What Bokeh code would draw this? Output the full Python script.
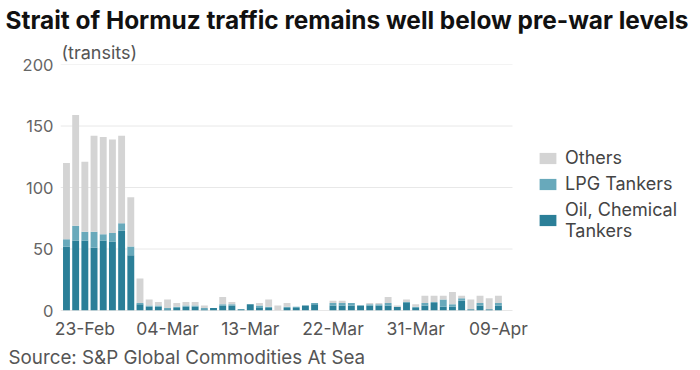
import pandas as pd
from bokeh.plotting import figure
from bokeh.models import FixedTicker, Legend, LegendItem, ColumnDataSource, Range1d, Title
from bokeh.embed import file_html
from bokeh.resources import INLINE

# ---- data (daily transits, 21-Feb to 09-Apr) ----
dates = list(pd.date_range("2026-02-21", "2026-04-09").strftime("%d-%b"))
oil = [52, 57, 57, 51, 57, 56, 65, 45, 5, 3, 3, 1, 2, 3, 3, 1,
       2, 4, 4, 1, 5, 2, 2, 0, 2, 2, 4, 5, 0, 4, 4, 4,
       4, 4, 4, 4, 3, 6, 2, 4, 6, 3, 3, 8, 1, 4, 1, 4]
lpg = [6, 12, 7, 13, 5, 7, 6, 7, 1, 1, 1, 1, 1, 1, 1, 1,
       0, 1, 1, 0, 0, 2, 1, 0, 1, 1, 0, 1, 0, 2, 2, 2,
       0, 1, 1, 2, 0, 1, 1, 2, 1, 6, 2, 2, 0, 2, 0, 2]
others = [62, 90, 57, 78, 79, 76, 71, 40, 20, 5, 3, 7, 3, 3, 3, 2,
          0, 6, 2, 0, 0, 2, 6, 4, 3, 0, 0, 0, 0, 2, 2, 0,
          0, 1, 1, 5, 1, 2, 2, 6, 5, 3, 10, 2, 8, 6, 9, 6]
series = ["oil", "lpg", "others"]
series_labels = ["Oil, Chemical\nTankers", "LPG Tankers", "Others"]
colors = ["#2b7f98", "#68a9bb", "#d4d4d4"]
tick_labels = ["23-Feb", "04-Mar", "13-Mar", "22-Mar", "31-Mar", "09-Apr"]
y_ticks = [0, 50, 100, 150, 200]

title_text = "Strait of Hormuz traffic remains well below pre-war levels"
unit_text = "(transits)"
source_text = "Source: S&P Global Commodities At Sea"

FONT = "Inter"

# ---- layout constants ----
W, H = 700, 370
LEFT, TOP, BOTTOM = 60, 62, 58
DAY_PX = 9.19          # pixel width of one day slot
X0 = -0.65             # left edge of the plot area (in day units)
PLOT_W = 452           # visible bar-area width in px (gridlines end here)
x_end = X0 + (W - LEFT) / DAY_PX
grid_end = X0 + PLOT_W / DAY_PX

x = list(range(len(dates)))
src = ColumnDataSource(dict(x=x, oil=oil, lpg=lpg, others=others))

p = figure(width=W, height=H, output_backend="svg", toolbar_location=None,
           x_range=Range1d(X0, x_end), y_range=Range1d(y_ticks[0], y_ticks[-1]),
           min_border_left=LEFT, min_border_right=0, min_border_top=TOP,
           min_border_bottom=BOTTOM)
p.outline_line_color = None
p.background_fill_color = "white"
p.border_fill_color = "white"
p.xgrid.grid_line_color = None
p.ygrid.grid_line_color = None

# gridlines limited to the bar area
n = len(y_ticks)
p.segment(x0=[X0] * n, y0=y_ticks, x1=[grid_end] * n, y1=y_ticks,
          line_color=["#d0d0d0"] + ["#e8e8e8"] * (n - 1), line_width=1)

rs = p.vbar_stack(series, x="x", width=0.75, color=colors, source=src, line_color=None)

# axes
p.yaxis.ticker = FixedTicker(ticks=y_ticks)
p.yaxis.axis_line_color = None
p.yaxis.major_tick_line_color = None
p.yaxis.minor_tick_line_color = None
p.yaxis.major_tick_out = 0
p.yaxis.major_tick_in = 0
p.yaxis.major_label_standoff = 7
p.yaxis.major_label_text_font = FONT
p.yaxis.major_label_text_font_size = "16.5px"
p.yaxis.major_label_text_color = "#666666"

tick_pos = [dates.index(t) for t in tick_labels]
p.xaxis.ticker = FixedTicker(ticks=tick_pos)
p.xaxis.major_label_overrides = {i: t for i, t in zip(tick_pos, tick_labels)}
p.xaxis.axis_line_color = None
p.xaxis.major_tick_line_color = None
p.xaxis.minor_tick_line_color = None
p.xaxis.major_tick_out = 0
p.xaxis.major_tick_in = 0
p.xaxis.major_label_standoff = 7
p.xaxis.major_label_text_font = FONT
p.xaxis.major_label_text_font_size = "17.5px"
p.xaxis.major_label_text_color = "#555555"

# titles (side panels)
p.title.text = title_text
p.title.align = "left"
p.title.offset = -55
p.title.text_font = FONT
p.title.text_font_style = "bold"
p.title.text_font_size = "24.4px"
p.title.text_color = "#111111"
p.title.standoff = 5

p.add_layout(Title(text=unit_text, align="left", offset=1, text_font=FONT,
                   text_font_style="normal", text_font_size="18px",
                   text_color="#555555", standoff=4), "above")

p.add_layout(Title(text=source_text, align="left", offset=-52, text_font=FONT,
                   text_font_style="normal", text_font_size="18.8px",
                   text_color="#555555", standoff=4), "below")

items = [LegendItem(label=lab, renderers=[r]) for lab, r in zip(series_labels, rs)][::-1]
legend = Legend(items=items, location=(477, 69), background_fill_alpha=0,
                border_line_color=None, padding=0, margin=0, spacing=5,
                glyph_width=21, glyph_height=14, label_standoff=7,
                label_text_font=FONT, label_text_font_size="18px",
                label_text_color="#444444")
p.add_layout(legend)

open("out.html", "w").write(file_html(p, INLINE))
